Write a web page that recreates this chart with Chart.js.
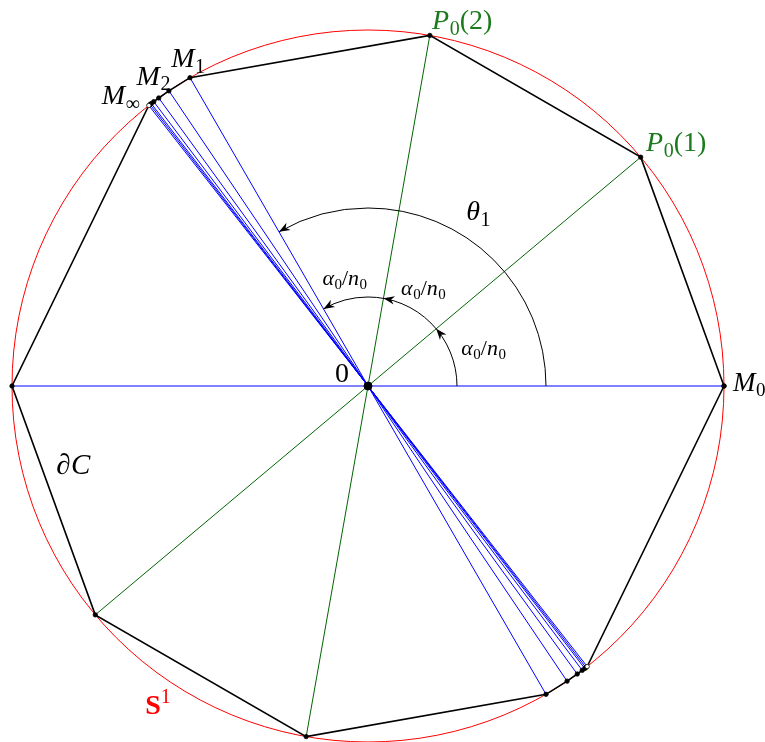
<!DOCTYPE html>
<html>
<head>
<meta charset="utf-8">
<script src="https://cdn.jsdelivr.net/npm/chart.js@4"></script>
<style>
html, body { margin: 0; padding: 0; background: #fff; }
canvas { display: block; }
</style>
</head>
<body>
<canvas id="canvas" width="765" height="742"></canvas>
<script>
// angles in degrees on the unit circle S^1
var polygonAngles = [0, 40, 80, 120, 124, 126, 127, 127.5, 127.75, 128, 180, 220, 260, 300, 304, 306, 307, 307.5, 307.75, 308];
var hollowAngles = [128, 308];
var blueAngles = [0, 120, 124, 126, 127, 127.5, 127.75, 128];
var greenAngles = [40, 80];
var smallArcStops = [0, 40, 80, 120];
var smallArcRadius = 0.25;
var thetaArcStops = [0, 120];
var thetaArcRadius = 0.5;

var GREEN = '#1c7a1c';

function pt(a, r) {
	if (r === undefined) r = 1;
	var t = a * Math.PI / 180;
	return { x: r * Math.cos(t), y: r * Math.sin(t) };
}

var polyData = polygonAngles.map(function (a) { return pt(a); });
polyData.push(pt(polygonAngles[0]));
var polyFill = polyData.map(function (p, i) {
	var a = polygonAngles[i % polygonAngles.length];
	return hollowAngles.indexOf(a) >= 0 ? '#fff' : '#000';
});

var datasets = [];
datasets.push({
	label: 'polygon', data: polyData, showLine: true, borderColor: '#000', borderWidth: 1.6,
	pointRadius: 2.2, pointBackgroundColor: polyFill, pointBorderColor: '#000', pointBorderWidth: 0.8,
	order: 0, clip: false
});
datasets.push({
	label: 'center', data: [{ x: 0, y: 0 }], pointRadius: 4, pointBackgroundColor: '#000',
	pointBorderColor: '#000', order: -1, clip: false
});
blueAngles.forEach(function (a) {
	datasets.push({ label: 'b' + a, data: [pt(a + 180), pt(a)], showLine: true, borderColor: '#0000ff',
		borderWidth: 1, pointRadius: 0, order: 1, clip: false });
});
greenAngles.forEach(function (a) {
	datasets.push({ label: 'g' + a, data: [pt(a + 180), pt(a)], showLine: true, borderColor: '#006400',
		borderWidth: 1, pointRadius: 0, order: 2, clip: false });
});

// text labels: x, y in data units (left, baseline)
var labels = [
	{ x: 1.025, y: -0.013, size: 27, color: '#000', parts: [['M', 'i'], ['0', 'sub']] },
	{ x: 0.781, y: 0.660, size: 28, color: GREEN, parts: [['P', 'i'], ['0', 'sub'], ['(1)', 'r']] },
	{ x: 0.180, y: 1.003, size: 28, color: GREEN, parts: [['P', 'i'], ['0', 'sub'], ['(2)', 'r']] },
	{ x: -0.553, y: 0.896, size: 28, color: '#000', parts: [['M', 'i'], ['1', 'sub']] },
	{ x: -0.650, y: 0.846, size: 28, color: '#000', parts: [['M', 'i'], ['2', 'sub']] },
	{ x: -0.748, y: 0.792, size: 28, color: '#000', parts: [['M', 'i'], ['\u221e', 'sub']] },
	{ x: 0.276, y: 0.466, size: 28, color: '#000', parts: [['\u03b8', 'i'], ['1', 'sub']] },
	{ x: 0.262, y: 0.087, size: 22, color: '#000', parts: [['\u03b1', 'i'], ['0', 'sub'], ['/', 'r'], ['n', 'i'], ['0', 'sub']] },
	{ x: 0.093, y: 0.256, size: 22, color: '#000', parts: [['\u03b1', 'i'], ['0', 'sub'], ['/', 'r'], ['n', 'i'], ['0', 'sub']] },
	{ x: -0.128, y: 0.284, size: 22, color: '#000', parts: [['\u03b1', 'i'], ['0', 'sub'], ['/', 'r'], ['n', 'i'], ['0', 'sub']] },
	{ x: -0.093, y: 0.010, size: 28, color: '#000', parts: [['0', 'r']] },
	{ x: -0.876, y: -0.247, size: 29, color: '#000', parts: [['\u2202', 'i'], ['C', 'i']] },
	{ x: -0.626, y: -0.921, size: 28, color: '#ff0000', parts: [['S', 'b'], ['1', 'sup']] }
];

function drawMath(ctx, lab, px, py) {
	var x = px;
	ctx.fillStyle = lab.color;
	ctx.textBaseline = 'alphabetic';
	ctx.textAlign = 'left';
	lab.parts.forEach(function (p) {
		var t = p[0], k = p[1], s = lab.size, dy = 0, f;
		if (k === 'i') f = 'italic ' + s + 'px "Liberation Serif"';
		else if (k === 'b') f = 'bold ' + s + 'px "Liberation Serif"';
		else if (k === 'r') f = s + 'px "Liberation Serif"';
		else if (k === 'sub') { f = Math.round(s * 0.7) + 'px "Liberation Serif"'; dy = s * 0.2; }
		else { f = Math.round(s * 0.7) + 'px "Liberation Serif"'; dy = -s * 0.38; }
		ctx.font = f;
		ctx.fillText(t, x, py + dy);
		x += ctx.measureText(t).width + (k === 'i' ? 0.5 : 0);
	});
}

function arrowHead(ctx, cx, cy, r, a) {
	var t = a * Math.PI / 180;
	var tx = cx + r * Math.cos(t), ty = cy - r * Math.sin(t);
	var dx = -Math.sin(t), dy = -Math.cos(t);
	var nx = Math.cos(t), ny = -Math.sin(t);
	var L = 11, W = 4.2;
	ctx.beginPath();
	ctx.moveTo(tx, ty);
	ctx.lineTo(tx - L * dx + W * nx, ty - L * dy + W * ny);
	ctx.lineTo(tx - L * 0.7 * dx, ty - L * 0.7 * dy);
	ctx.lineTo(tx - L * dx - W * nx, ty - L * dy - W * ny);
	ctx.closePath();
	ctx.fill();
}

function drawArc(ctx, cx, cy, r, stops) {
	var a0 = stops[0] * Math.PI / 180, a1 = stops[stops.length - 1] * Math.PI / 180;
	ctx.beginPath();
	ctx.arc(cx, cy, r, -a0, -a1, true);
	ctx.stroke();
	stops.slice(1).forEach(function (a) { arrowHead(ctx, cx, cy, r, a); });
}

var figurePlugin = {
	id: 'figure',
	beforeDatasetsDraw: function (chart) {
		var ctx = chart.ctx, xs = chart.scales.x, ys = chart.scales.y;
		var cx = xs.getPixelForValue(0), cy = ys.getPixelForValue(0);
		var R = xs.getPixelForValue(1) - cx;
		ctx.save();
		ctx.strokeStyle = '#ff0000';
		ctx.lineWidth = 1;
		ctx.beginPath();
		ctx.arc(cx, cy, R, 0, Math.PI * 2);
		ctx.stroke();
		ctx.restore();
	},
	afterDatasetsDraw: function (chart) {
		var ctx = chart.ctx, xs = chart.scales.x, ys = chart.scales.y;
		var cx = xs.getPixelForValue(0), cy = ys.getPixelForValue(0);
		var R = xs.getPixelForValue(1) - cx;
		ctx.save();
		ctx.strokeStyle = '#000';
		ctx.fillStyle = '#000';
		ctx.lineWidth = 1;
		drawArc(ctx, cx, cy, R * smallArcRadius, smallArcStops);
		drawArc(ctx, cx, cy, R * thetaArcRadius, thetaArcStops);
		labels.forEach(function (lab) {
			drawMath(ctx, lab, xs.getPixelForValue(lab.x), ys.getPixelForValue(lab.y));
		});
		ctx.restore();
	}
};

var ctx = document.getElementById('canvas').getContext('2d');
var R0 = 356, CX = 368, CY = 386;
window.myChart = new Chart(ctx, {
	type: 'scatter',
	data: { datasets: datasets },
	options: {
		responsive: false,
		animation: false,
		layout: { padding: 0, autoPadding: false },
		plugins: { legend: { display: false }, tooltip: { enabled: false } },
		scales: {
			x: { type: 'linear', display: false, min: -CX / R0, max: (765 - CX) / R0 },
			y: { type: 'linear', display: false, min: -(742 - CY) / R0, max: CY / R0 }
		}
	},
	plugins: [figurePlugin]
});
</script>
</body>
</html>
